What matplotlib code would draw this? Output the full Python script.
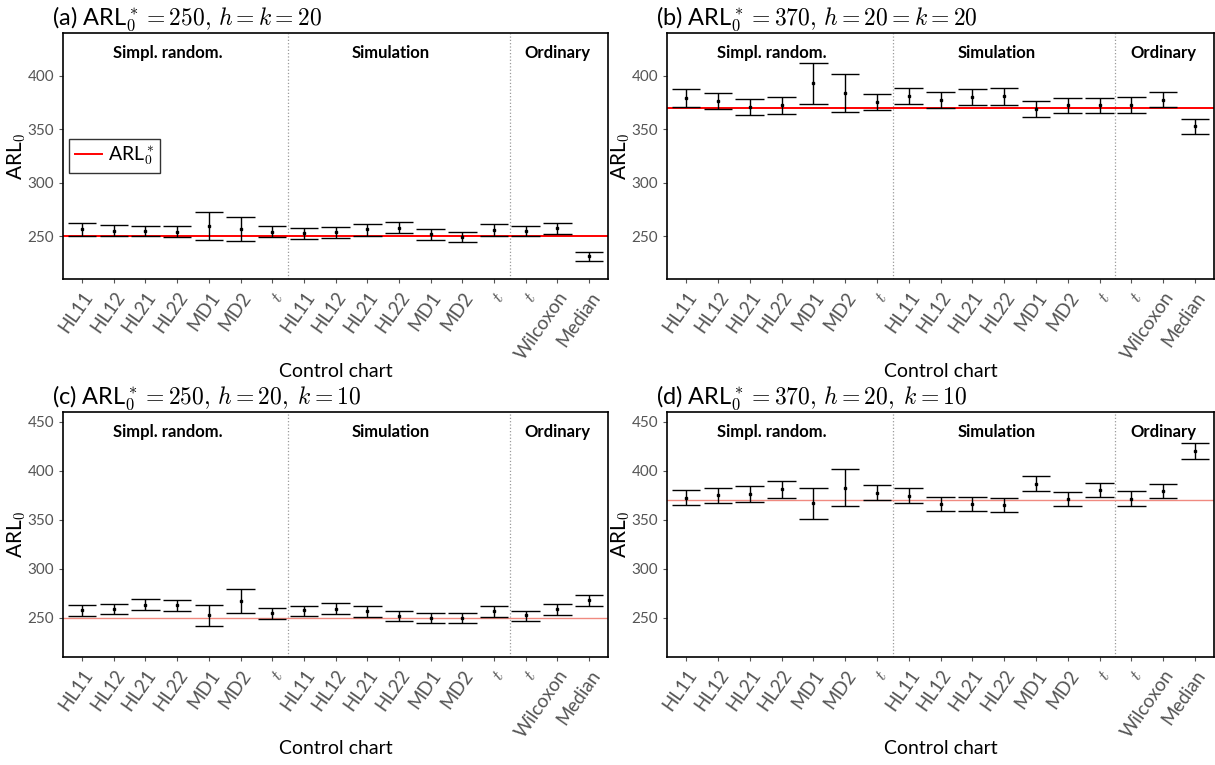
import numpy as np
import matplotlib.pyplot as plt

plt.rcParams['font.family'] = ['Lato', 'DejaVu Sans']
plt.rcParams['mathtext.fontset'] = 'cm'

Charts = ['HL11', 'HL12', 'HL21', 'HL22', 'MD1', 'MD2', '$t$',
          'HL11', 'HL12', 'HL21', 'HL22', 'MD1', 'MD2', '$t$',
          '$t$', 'Wilcoxon', 'Median']
Groups = ['Simpl. random.', 'Simulation', 'Ordinary']
GroupCentres = [3.7, 10.75, 16.0]
Dividers = [7.5, 14.5]

Titles = [r'(a) ARL$_0^*=250,\,h=k=20$',
          r'(b) ARL$_0^*=370,\,h=20=k=20$',
          r'(c) ARL$_0^*=250,\,h=20,\;k=10$',
          r'(d) ARL$_0^*=370,\,h=20,\;k=10$']
Targets = [250, 370, 250, 370]

# (a)
MeanA = [256.3, 255.3, 255.0, 254.4, 259.7, 256.9, 254.4,
         252.8, 253.8, 256.3, 258.1, 252.2, 249.4, 255.6,
         255.3, 257.5, 231.2]
LowA = [250.3, 250.0, 250.0, 248.8, 246.5, 245.3, 249.7,
        247.5, 248.4, 250.6, 252.8, 246.9, 244.4, 250.3,
        250.3, 252.2, 226.5]
HighA = [261.9, 260.6, 260.0, 259.4, 272.2, 268.1, 259.1,
         257.5, 258.7, 261.3, 263.1, 256.9, 254.4, 261.0,
         260.0, 262.5, 235.6]

# (b)
MeanB = [379.5, 376.3, 370.7, 372.3, 393.2, 383.8, 375.4,
         381.3, 377.3, 379.7, 380.7, 369.1, 372.3, 372.3,
         372.9, 377.6, 352.6]
LowB = [370.7, 368.8, 362.9, 364.4, 373.2, 365.7, 367.9,
        373.8, 370.1, 372.3, 372.9, 361.6, 364.8, 365.1,
        365.4, 370.4, 345.7]
HighB = [387.9, 384.1, 378.2, 379.8, 412.3, 401.7, 382.6,
         388.8, 384.8, 387.3, 388.2, 376.4, 379.5, 379.2,
         379.8, 384.8, 359.5]

# (c)
MeanC = [257.5, 258.8, 263.3, 262.9, 252.7, 267.0, 254.7,
         257.5, 259.2, 256.8, 251.6, 250.0, 249.7, 256.8,
         252.4, 258.5, 267.7]
LowC = [252.0, 253.4, 257.5, 257.2, 242.1, 254.7, 249.0,
        252.0, 254.1, 251.3, 246.5, 244.9, 244.9, 251.3,
        247.2, 253.0, 262.3]
HighC = [262.6, 264.4, 268.8, 268.5, 263.3, 279.3, 259.9,
         262.3, 264.7, 261.6, 256.5, 254.7, 254.7, 261.6,
         257.2, 264.0, 272.9]

# (d)
MeanD = [372.7, 375.1, 376.5, 380.9, 366.9, 382.9, 377.5,
         374.7, 366.2, 366.5, 365.2, 386.7, 371.3, 380.6,
         371.6, 379.8, 420.3]
LowD = [364.9, 367.2, 368.6, 372.4, 351.1, 363.8, 370.3,
        367.5, 358.7, 359.0, 358.0, 379.2, 364.2, 373.1,
        364.2, 372.0, 412.0]
HighD = [380.3, 382.9, 384.4, 389.5, 382.3, 402.1, 385.0,
         381.9, 373.4, 373.4, 372.4, 394.2, 378.8, 388.0,
         379.2, 387.0, 428.5]

Means = [MeanA, MeanB, MeanC, MeanD]
Lows = [LowA, LowB, LowC, LowD]
Highs = [HighA, HighB, HighC, HighD]

Boxes = [[0.0519, 0.6353, 0.4486, 0.3216],
         [0.5490, 0.6353, 0.4502, 0.3216],
         [0.0519, 0.1412, 0.4486, 0.3203],
         [0.5490, 0.1412, 0.4502, 0.3203]]
YLims = [(210, 440), (210, 440), (210, 460), (210, 460)]
YTicks = [[250, 300, 350, 400], [250, 300, 350, 400],
          [250, 300, 350, 400, 450], [250, 300, 350, 400, 450]]

fig = plt.figure(figsize=(12.15, 7.65), dpi=100)

for Panel in range(4):
    ax = fig.add_axes(Boxes[Panel])
    X = np.arange(1, len(Charts) + 1)
    Mean = np.array(Means[Panel])
    Low = np.array(Lows[Panel])
    High = np.array(Highs[Panel])

    # target ARL line, bright in the top row, faded in the bottom row
    if Panel < 2:
        ax.axhline(Targets[Panel], color='#ff0000', lw=1.4, zorder=1,
                   label=r'ARL$_0^*$')
    else:
        ax.axhline(Targets[Panel], color='#f08a80', lw=1.0, zorder=1)

    for Div in Dividers:
        ax.axvline(Div, color='#9a9a9a', lw=0.9, ls=':', zorder=0)

    ax.vlines(X, Low, High, color='black', lw=1.0, zorder=2)
    ax.hlines(Low, X - 0.45, X + 0.45, color='black', lw=1.0, zorder=2)
    ax.hlines(High, X - 0.45, X + 0.45, color='black', lw=1.0, zorder=2)
    ax.plot(X, Mean, 's', color='black', ms=2.0, zorder=3)

    for Name, XPos in zip(Groups, GroupCentres):
        ax.text(XPos, 0.92, Name, transform=ax.get_xaxis_transform(),
                ha='center', va='center', fontsize=12, fontweight='bold')

    ax.set_xlim(0.4, len(Charts) + 0.6)
    ax.set_ylim(*YLims[Panel])
    ax.set_yticks(YTicks[Panel])
    ax.set_xticks(X)
    ax.set_xticklabels(Charts, rotation=55, ha='right', va='top',
                       rotation_mode='anchor', fontsize=13.5, color='#555555')
    ax.tick_params(axis='y', labelsize=11, labelcolor='#555555',
                   color='#555555', length=3)
    ax.tick_params(axis='x', color='#555555', length=3, pad=4)
    for Spine in ax.spines.values():
        Spine.set_linewidth(1.2)

    ax.set_ylabel(r'ARL$_0$', fontsize=15)
    ax.yaxis.set_label_coords(-0.064, 0.5)
    ax.set_xlabel('Control chart', fontsize=14)
    ax.xaxis.set_label_coords(0.5, -0.34)
    ax.set_title(Titles[Panel], loc='left', x=-0.02, fontsize=17, pad=2)

    if Panel == 0:
        Leg = ax.legend(loc='center left', bbox_to_anchor=(0.0, 0.5),
                        fontsize=14, frameon=True, fancybox=False,
                        edgecolor='black', handlelength=1.4, borderpad=0.3,
                        handletextpad=0.3, borderaxespad=0.3)
        Leg.get_frame().set_linewidth(1.0)

fig.savefig('out.png', dpi=100)
